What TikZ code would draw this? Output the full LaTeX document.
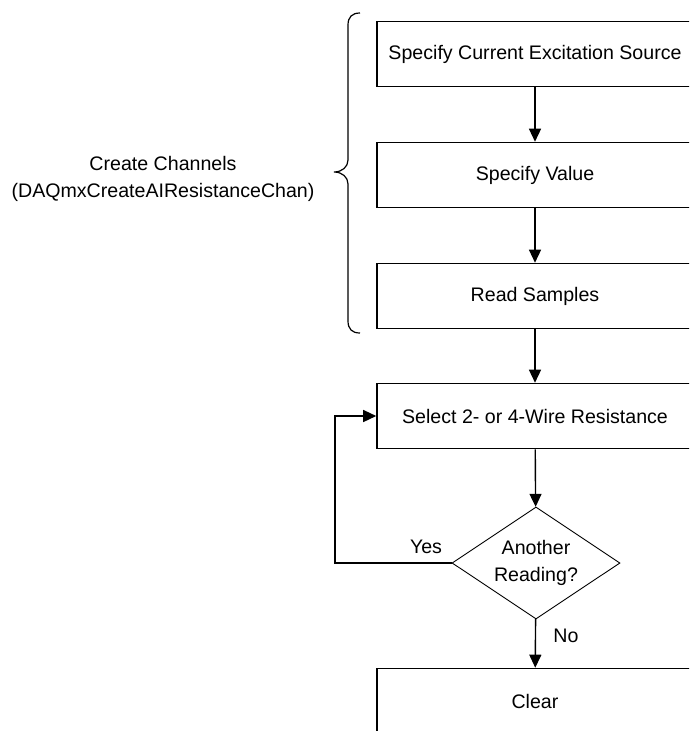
\documentclass[tikz,border=0pt]{standalone}
\usepackage{fontspec}
\setmainfont{Liberation Sans}
\usetikzlibrary{arrows.meta,shapes.geometric}
\begin{document}
\begin{tikzpicture}[x=1pt,y=-1pt,
  every node/.style={font=\fontsize{19.6}{27}\selectfont, text=black},
  stepbox/.style={draw=black, line width=1.6pt, minimum width=316pt, minimum height=65pt, inner sep=0pt},
  decision/.style={draw=black, line width=0.9pt, diamond, aspect=1.5, minimum width=168pt, minimum height=112pt, inner sep=0pt, align=center},
  conn/.style={draw=black, line width=1.4pt, -{Triangle[width=12pt,length=13pt]}},
  plain/.style={draw=black, line width=1.4pt}
]
\clip (0,0) rectangle (689,731);
\fill[white] (0,0) rectangle (689,731);

\node[stepbox] (b1) at (535,54) {Specify Current Excitation Source};
\node[stepbox] (b2) at (535,175) {Specify Value};
\node[stepbox] (b3) at (535,296) {Read Samples};
\node[stepbox] (b4) at (535,416) {Select 2- or 4-Wire Resistance};
\node[decision] (dia) at (536,563) {Another\\Reading?};
\node[stepbox] (b5) at (535,701) {Clear};

\draw[conn] (b1) -- (b2);
\draw[conn] (b2) -- (b3);
\draw[conn] (b3) -- (b4);
\draw[conn] (b4) -- (dia);
\draw[conn] (dia) -- (b5);
\coordinate (loopc) at (335,563);
\draw[conn] (dia.west) -- (loopc) |- (b4.west);

\node (yes) at (426,547) {Yes};
\node (no) at (566,636) {No};

\node[align=center] (cc) at (163,179) {Create Channels\\(DAQmxCreateAIResistanceChan)};

\draw[line width=1.2pt] (360,13) .. controls (352,13) and (348,17) .. (348,25) -- (348,160)
  .. controls (348,167) and (342,172) .. (334,172)
  .. controls (342,172) and (348,177) .. (348,184) -- (348,321)
  .. controls (348,329) and (352,333) .. (360,333);
\end{tikzpicture}
\end{document}
